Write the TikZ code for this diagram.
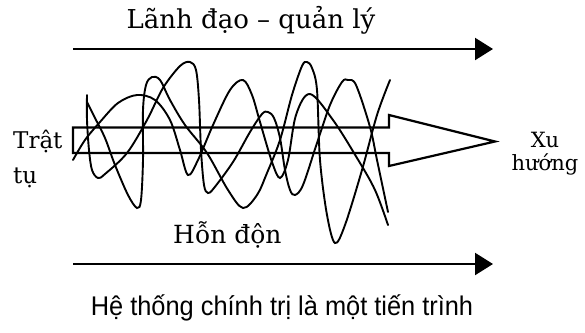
\documentclass[tikz,border=0pt]{standalone}
\usepackage{fontspec}
\setmainfont{DejaVu Serif}
\newfontfamily\capfont{Liberation Sans}
\usetikzlibrary{arrows.meta}
\begin{document}
\begin{tikzpicture}[x=1pt,y=-1pt,
  mainarrow/.style={line width=2.2pt,-{Triangle[length=18pt,width=22pt]}},
  boxarrow/.style={line width=2.2pt,line join=miter},
  wave/.style={line width=1.9pt,line cap=round},
  lbl/.style={inner sep=0pt,font=\fontsize{#1}{#1}\selectfont},
  lbl/.default=24]
\useasboundingbox (0,0) rectangle (585,332);
% top and bottom arrows
\coordinate (t1) at (73,49);  \coordinate (t2) at (493,49);
\coordinate (b1) at (73,264); \coordinate (b2) at (493,264);
\draw[mainarrow] (t1) -- (t2);
\draw[mainarrow] (b1) -- (b2);
% hollow trend arrow
\draw[boxarrow] (73,127.5) -- (389,127.5) -- (389,115) -- (495,141.5)
  -- (389,166) -- (389,153) -- (73,153) -- cycle;
% chaotic waves
\draw[wave] plot[smooth,tension=0.55] coordinates {(87,95) (87,120) (89,150) (92,170) (98,178) (105,174) (127,153) (147,120) (163,88) (180,66) (190,62) (196,70) (199,100) (201,150) (204,185) (208,193) (214,188) (233,162) (250,132) (262,114) (268,112) (274,118) (280,138) (285,170) (290,190) (295,195) (303,185) (317,143) (330,105) (342,82) (348,80) (356,85) (370,127) (377,160) (388,212)};
\draw[wave] plot[smooth,tension=0.55] coordinates {(87,102) (95,118) (105,138) (115,165) (128,195) (137,208) (141,200) (143,160) (143,110) (146,85) (152,77) (160,80) (170,100) (185,125) (207,153) (228,190) (243,208) (257,195) (267,173) (280,140) (292,95) (302,66) (307,62) (312,68) (317,90) (320,160) (327,215) (335,243) (345,225) (362,170) (377,115) (390,80)};
\draw[wave] plot[smooth,tension=0.55] coordinates {(73,160) (85,140) (100,122) (118,103) (137,95) (155,100) (170,120) (180,150) (188,175) (198,160) (213,125) (230,90) (243,80) (252,95) (260,122) (272,162) (280,178) (288,160) (296,115) (310,94) (333,120) (357,158) (375,190) (388,225)};
% labels
\node[lbl=26,anchor=base] (lead) at (251,28) {Lãnh đạo – quản lý};
\node[lbl=23,anchor=base west] (ord1) at (13,148) {Trật};
\node[lbl=23,anchor=base west] (ord2) at (13,183) {tụ};
\node[lbl=21,anchor=base] (trend1) at (545,147) {Xu};
\node[lbl=21,anchor=base] (trend2) at (545,170) {hướng};
\node[lbl=25,anchor=base west] (chaos) at (173,243) {Hỗn độn};
\node[inner sep=0pt,anchor=base] (cap) at (282,315) {\capfont\fontsize{27}{27}\selectfont\scalebox{0.94}[1]{Hệ thống chính trị là một tiến trình}};
\end{tikzpicture}
\end{document}
